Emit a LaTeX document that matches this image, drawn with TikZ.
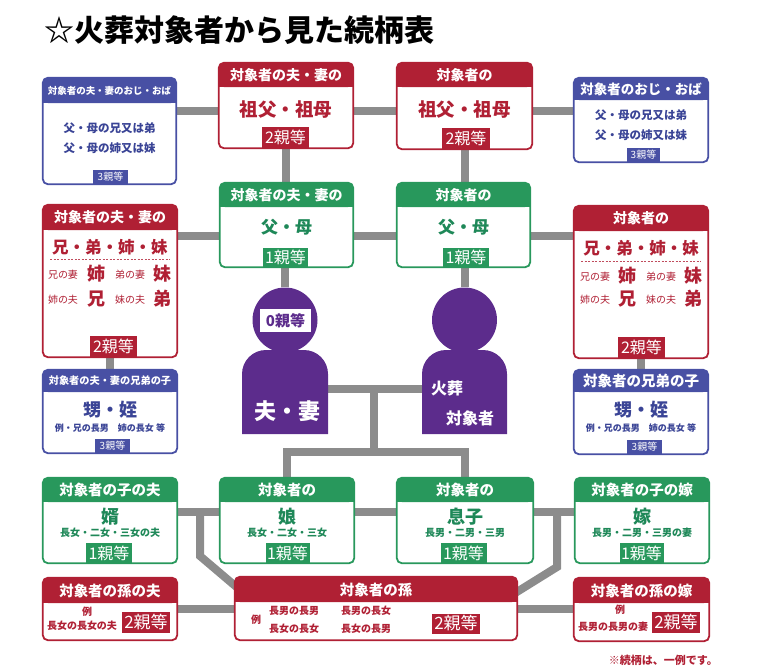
\documentclass[tikz,border=0pt]{standalone}
\usepackage{fontspec}
\setmainfont{Noto Sans CJK JP}
\usetikzlibrary{fit,calc}
\pgfdeclarelayer{bg}
\pgfsetlayers{bg,main}
\definecolor{kred}{RGB}{176,32,52}
\definecolor{kgreen}{RGB}{40,152,92}
\definecolor{kgreent}{RGB}{30,136,88}
\definecolor{kblue}{RGB}{72,80,164}
\definecolor{kbluet}{RGB}{58,68,150}
\definecolor{kpurple}{RGB}{92,44,140}
\definecolor{kgray}{RGB}{140,140,140}
\newcommand\fs[1]{\fontsize{#1}{#1}\selectfont}
\newcommand\kbox[9]{%
 \node[fit={(#3,#4) (#5,#6)}, inner sep=0pt, fill=white, rounded corners=5pt] (#1) {};
 \fill[#2, rounded corners=5pt] (#3,#4) rectangle (#5,#7);
 \fill[#2] (#3,#7-6) rectangle (#5,#7);
 \draw[#2, line width=1.8pt, rounded corners=5pt] (#1.north west) rectangle (#1.south east);
 \node[hdr, font=\fs{#8}\bfseries] (#1-h) at ({(#3+#5)/2},{(#4+#7)/2}) {#9};
}
\newcommand\klabel[8]{%
 \node[fill=#2, text=white, inner sep=0pt, minimum width=#5pt, minimum height=#6pt, font=\fs{#7}] (#1) at (#3,#4) {#8};
}
\tikzset{
 hdr/.style={text=white, inner sep=0pt},
 conn/.style={draw=kgray, line width=8pt},
 rtxt/.style={text=kred, inner sep=0pt},
 gtxt/.style={text=kgreent, inner sep=0pt},
 btxt/.style={text=kbluet, inner sep=0pt},
 wtxt/.style={text=white, inner sep=0pt},
}
\begin{document}
\begin{tikzpicture}[x=1pt,y=-1pt]
\useasboundingbox (0,0) rectangle (761,672);
\node[anchor=west, inner sep=0pt, font=\fs{30}\bfseries] (title) at (44,30) {☆火葬対象者から見た続柄表};

% row 1
\kbox{ouL}{kblue}{43}{78}{176}{184}{103}{9.5}{対象者の夫・妻のおじ・おば}
\node[btxt, font=\fs{11.5}\bfseries] (ouL-a) at (109.5,128) {父・母の兄又は弟};
\node[btxt, font=\fs{11.5}\bfseries] (ouL-b) at (109.5,148) {父・母の姉又は妹};
\klabel{ouL-l}{kblue}{110.5}{177}{35}{14}{10}{3親等}

\kbox{gpL}{kred}{219}{63}{353}{148}{87}{14}{対象者の夫・妻の}
\node[rtxt, font=\fs{18.5}\bfseries] (gpL-a) at (286,110) {祖父・祖母};
\klabel{gpL-l}{kred}{285.5}{137}{47}{21}{16}{2親等}

\kbox{gpR}{kred}{397}{63}{532}{149}{87}{14}{対象者の}
\node[rtxt, font=\fs{18.5}\bfseries] (gpR-a) at (464.5,110) {祖父・祖母};
\klabel{gpR-l}{kred}{466}{138}{48}{21}{16}{2親等}

\kbox{ouR}{kblue}{574}{78}{708}{162}{100}{13.5}{対象者のおじ・おば}
\node[btxt, font=\fs{11.5}\bfseries] (ouR-a) at (641,115) {父・母の兄又は弟};
\node[btxt, font=\fs{11.5}\bfseries] (ouR-b) at (641,135) {父・母の姉又は妹};
\klabel{ouR-l}{kblue}{643.5}{155}{33}{14}{10}{3親等}

% row 2
\kbox{parL}{kgreen}{220}{183}{353}{267}{207}{14}{対象者の夫・妻の}
\node[gtxt, font=\fs{17}\bfseries] (parL-a) at (286.5,227) {父・母};
\klabel{parL-l}{kgreen}{285.5}{257.5}{45}{19}{16}{1親等}

\kbox{parR}{kgreen}{397}{183}{530}{267}{207}{14}{対象者の}
\node[gtxt, font=\fs{17}\bfseries] (parR-a) at (463.5,227) {父・母};
\klabel{parR-l}{kgreen}{466}{257.5}{46}{19}{16}{1親等}

\kbox{sibL}{kred}{43}{205}{177}{357}{230}{14}{対象者の夫・妻の}
\node[rtxt, font=\fs{16.5}\bfseries] (sibL-a) at (110,247) {兄・弟・姉・妹};
\draw[kred!80, line width=0.8pt, dash pattern=on 2pt off 1.5pt] (50,259) -- (170,259);
\node[rtxt, font=\fs{10}] (sibL-1) at (63,275) {兄の妻};
\node[rtxt, font=\fs{18}\bfseries] (sibL-2) at (96,274) {姉};
\node[rtxt, font=\fs{10}] (sibL-3) at (130,275) {弟の妻};
\node[rtxt, font=\fs{18}\bfseries] (sibL-4) at (162,274) {妹};
\node[rtxt, font=\fs{10}] (sibL-5) at (63,300) {姉の夫};
\node[rtxt, font=\fs{18}\bfseries] (sibL-6) at (96,299) {兄};
\node[rtxt, font=\fs{10}] (sibL-7) at (130,300) {妹の夫};
\node[rtxt, font=\fs{18}\bfseries] (sibL-8) at (162,299) {弟};
\klabel{sibL-l}{kred}{113.5}{346}{47}{21}{16}{2親等}

\kbox{sibR}{kred}{574}{206}{708}{358}{231}{14}{対象者の}
\node[rtxt, font=\fs{16.5}\bfseries] (sibR-a) at (641,248) {兄・弟・姉・妹};
\draw[kred!80, line width=0.8pt, dash pattern=on 2pt off 1.5pt] (581,261) -- (701,261);
\node[rtxt, font=\fs{10}] (sibR-1) at (595,277) {兄の妻};
\node[rtxt, font=\fs{18}\bfseries] (sibR-2) at (627,276) {姉};
\node[rtxt, font=\fs{10}] (sibR-3) at (661,277) {弟の妻};
\node[rtxt, font=\fs{18}\bfseries] (sibR-4) at (693,276) {妹};
\node[rtxt, font=\fs{10}] (sibR-5) at (595,300) {姉の夫};
\node[rtxt, font=\fs{18}\bfseries] (sibR-6) at (627,299) {兄};
\node[rtxt, font=\fs{10}] (sibR-7) at (661,300) {妹の夫};
\node[rtxt, font=\fs{18}\bfseries] (sibR-8) at (693,299) {弟};
\klabel{sibR-l}{kred}{641.5}{347}{47}{21}{16}{2親等}

% persons
\node[circle, fill=kpurple, minimum size=65pt, inner sep=0pt] (spH) at (285,320) {};
\fill[kpurple] (242,434) -- (242,374) arc[start angle=180, end angle=270, radius=24] -- (304,350) arc[start angle=270, end angle=360, radius=24] -- (328,434) -- cycle;
\node[fit={(242,350) (328,434)}, inner sep=0pt] (spB) {};
\node[fill=white, text=kpurple, inner sep=0pt, minimum width=51pt, minimum height=23pt, font=\fs{15}\bfseries] (spL) at (285.5,320.5) {0親等};
\node[wtxt, font=\fs{22}\bfseries] (spT) at (287,411) {夫・妻};

\node[circle, fill=kpurple, minimum size=65pt, inner sep=0pt] (selfH) at (464.5,320) {};
\fill[kpurple] (422,434) -- (422,374) arc[start angle=180, end angle=270, radius=24] -- (483,350) arc[start angle=270, end angle=360, radius=24] -- (507,434) -- cycle;
\node[fit={(422,350) (507,434)}, inner sep=0pt] (selfB) {};
\node[wtxt, font=\fs{16}\bfseries] (selfT1) at (447,388) {火葬};
\node[wtxt, font=\fs{16}\bfseries] (selfT2) at (470,418) {対象者};

% row 3
\kbox{nepL}{kblue}{43}{370}{177}{453}{392}{10.2}{対象者の夫・妻の兄弟の子}
\node[btxt, font=\fs{18}\bfseries] (nepL-a) at (110,410) {甥・姪};
\node[btxt, font=\fs{9}\bfseries] (nepL-b) at (110,428) {例・兄の長男　姉の長女 等};
\klabel{nepL-l}{kblue}{112.5}{446}{35}{14}{10}{3親等}

\kbox{nepR}{kblue}{574}{370}{708}{454}{392}{14.5}{対象者の兄弟の子}
\node[btxt, font=\fs{18}\bfseries] (nepR-a) at (641,410) {甥・姪};
\node[btxt, font=\fs{9}\bfseries] (nepR-b) at (641,428) {例・兄の長男　姉の長女 等};
\klabel{nepR-l}{kblue}{644.5}{447}{35}{14}{10}{3親等}

% row 4
\kbox{groom}{kgreen}{43}{478}{177}{563}{502}{14.5}{対象者の子の夫}
\node[gtxt, font=\fs{18}\bfseries] (groom-a) at (110,517) {婿};
\node[gtxt, font=\fs{10}\bfseries] (groom-b) at (110,533) {長女・二女・三女の夫};
\klabel{groom-l}{kgreen}{109}{553}{46}{20}{16}{1親等}

\kbox{dau}{kgreen}{220}{478}{354}{563}{502}{14.5}{対象者の}
\node[gtxt, font=\fs{18}\bfseries] (dau-a) at (287,517) {娘};
\node[gtxt, font=\fs{10}\bfseries] (dau-b) at (287,533) {長女・二女・三女};
\klabel{dau-l}{kgreen}{287.5}{553}{44}{20}{16}{1親等}

\kbox{son}{kgreen}{397}{478}{533}{563}{502}{14.5}{対象者の}
\node[gtxt, font=\fs{18}\bfseries] (son-a) at (465,517) {息子};
\node[gtxt, font=\fs{10}\bfseries] (son-b) at (465,533) {長男・二男・三男};
\klabel{son-l}{kgreen}{463.5}{553}{46}{20}{16}{1親等}

\kbox{bride}{kgreen}{575}{478}{709}{563}{502}{14.5}{対象者の子の嫁}
\node[gtxt, font=\fs{18}\bfseries] (bride-a) at (642,517) {嫁};
\node[gtxt, font=\fs{10}\bfseries] (bride-b) at (642,533) {長男・二男・三男の妻};
\klabel{bride-l}{kgreen}{641.5}{553}{44}{20}{16}{1親等}

% row 5
\kbox{gcH}{kred}{43}{578}{177}{640}{603}{14.5}{対象者の孫の夫}
\node[rtxt, font=\fs{10}\bfseries] (gcH-a) at (87,612) {例};
\node[rtxt, font=\fs{10}\bfseries] (gcH-b) at (82,626) {長女の長女の夫};
\klabel{gcH-l}{kred}{146}{622.5}{48}{21}{17}{2親等}

\kbox{gc}{kred}{235}{577}{517}{640}{602}{14.5}{対象者の孫}
\node[rtxt, font=\fs{10}\bfseries] (gc-a) at (256,620) {例};
\node[rtxt, font=\fs{10}\bfseries] (gc-b) at (294,611) {長男の長男};
\node[rtxt, font=\fs{10}\bfseries] (gc-c) at (294,629) {長女の長女};
\node[rtxt, font=\fs{10}\bfseries] (gc-d) at (366,611) {長男の長女};
\node[rtxt, font=\fs{10}\bfseries] (gc-e) at (366,629) {長女の長男};
\klabel{gc-l}{kred}{456}{623.5}{48}{20}{17}{2親等}

\kbox{gcW}{kred}{574}{578}{709}{641}{603}{14.5}{対象者の孫の嫁}
\node[rtxt, font=\fs{10}\bfseries] (gcW-a) at (620,610) {例};
\node[rtxt, font=\fs{10}\bfseries] (gcW-b) at (613,627) {長男の長男の妻};
\klabel{gcW-l}{kred}{676}{622.5}{48}{21}{17}{2親等}

\node[anchor=east, text=kred, inner sep=0pt, font=\fs{11}\bfseries] (note) at (718,660) {※続柄は、一例です。};

% connectors
\coordinate (r1) at (0,111);
\coordinate (r2) at (0,236);
\coordinate (rP) at (0,389);
\coordinate (tj) at (374,389);
\coordinate (tb) at (374,452);
\coordinate (r4) at (0,512);
\coordinate (r5) at (0,609);
\coordinate (dL) at (200,512);
\coordinate (kL) at (200,556);
\coordinate (eL) at (240,590);
\coordinate (dR) at (557,512);
\coordinate (kR) at (557,567);
\coordinate (eR) at (512,595);
\begin{pgfonlayer}{bg}
\draw[conn] (ouL |- r1) -- (ouR |- r1);
\draw[conn] (gpL) -- (gpL |- parL);
\draw[conn] (gpR) -- (gpR |- parR);
\draw[conn] (sibL |- r2) -- (sibR |- r2);
\draw[conn] (spH |- parL) -- (spH);
\draw[conn] (selfH |- parR) -- (selfH);
\draw[conn] (sibL) -- (nepL);
\draw[conn] (sibR) -- (nepR);
\draw[conn] (spB |- rP) -- (selfB |- rP);
\draw[conn] (tj) -- (tb);
\draw[conn] (dau) |- (tb) -| (son);
\draw[conn] (groom |- r4) -- (bride |- r4);
\draw[conn] (dL) -- (kL) -- (eL);
\draw[conn] (dR) -- (kR) -- (eR);
\draw[conn] (gcH |- r5) -- (gcW |- r5);
\end{pgfonlayer}
\end{tikzpicture}
\end{document}
